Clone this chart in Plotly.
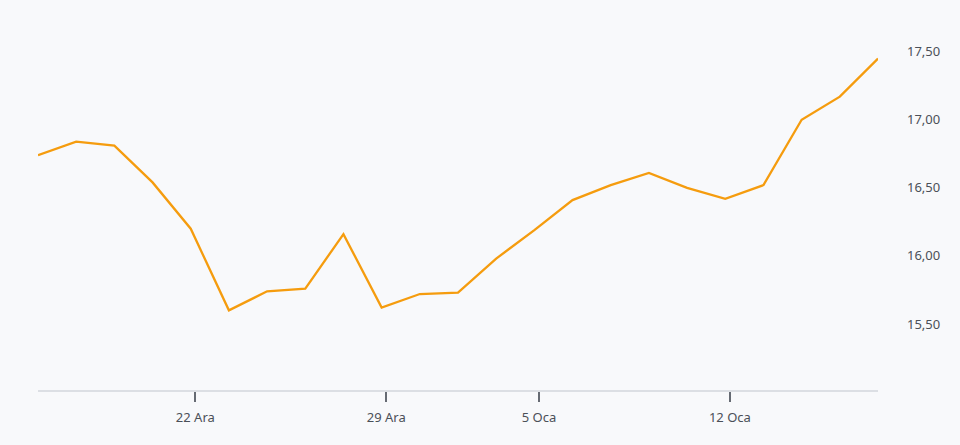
import plotly.graph_objects as go
import pandas as pd

# Trading days (weekends and 1 Jan holiday are absent)
dates = [
    "2024-12-16", "2024-12-17", "2024-12-18", "2024-12-19", "2024-12-20",
    "2024-12-23", "2024-12-24", "2024-12-25", "2024-12-26", "2024-12-27",
    "2024-12-30", "2024-12-31", "2025-01-02", "2025-01-03",
    "2025-01-06", "2025-01-07", "2025-01-08", "2025-01-09", "2025-01-10",
    "2025-01-13", "2025-01-14", "2025-01-15", "2025-01-16",
]
prices = [
    16.74, 16.84, 16.81, 16.54, 16.20,
    15.60, 15.74, 15.76, 16.16, 15.62,
    15.72, 15.73, 15.98, 16.19,
    16.41, 16.52, 16.61, 16.50, 16.42,
    16.52, 17.00, 17.17, 17.45,
]
tick_dates = ["2024-12-22", "2024-12-29", "2025-01-05", "2025-01-12"]
tick_labels = ["22 Ara", "29 Ara", "5 Oca", "12 Oca"]

# Index-based trading-day scale (gaps collapsed)
dt = pd.to_datetime(dates)
x_idx = list(range(len(dates)))
tick_pos = []
for td in pd.to_datetime(tick_dates):
    last = max(i for i, d in enumerate(dt) if d < td)
    tick_pos.append(last + 0.12)

BG = "#f8f9fb"

fig = go.Figure()
fig.add_trace(go.Scatter(
    x=x_idx, y=prices, mode="lines",
    line=dict(color="#f59c0e", width=2.3),
    customdata=dates,
    hovertemplate="%{customdata}<br>%{y:.2f}<extra></extra>",
))

font_family = "Noto Sans, Open Sans, sans-serif"
fig.update_layout(
    width=960, height=445,
    margin=dict(l=38, r=82, t=20, b=55),
    paper_bgcolor=BG, plot_bgcolor=BG,
    separators=",.",
    showlegend=False,
    font=dict(family=font_family, size=13, color="#4b5058"),
    xaxis=dict(
        range=[0, len(dates) - 1],
        showgrid=False, zeroline=False,
        showline=True, linecolor="#dcdfe4", linewidth=1.5,
        tickmode="array", tickvals=tick_pos, ticktext=tick_labels,
        ticks="outside", ticklen=10, tickwidth=1.5, tickcolor="#666b73",
        ticklabelstandoff=5,
        tickfont=dict(size=13, color="#4b5058"),
    ),
    yaxis=dict(
        side="right",
        range=[15.015, 17.733],
        tick0=15.5, dtick=0.5, tickformat=".2f",
        showgrid=False, zeroline=False, showline=False,
        ticks="", ticklabelstandoff=28,
        tickfont=dict(size=13, color="#4b5058"),
    ),
)

fig.write_html(
    "out.html",
    config={"displayModeBar": False},
    post_script=(
        "document.body.style.margin='0';"
        "document.body.style.overflow='hidden';"
        "document.body.style.background='" + BG + "';"
    ),
)
